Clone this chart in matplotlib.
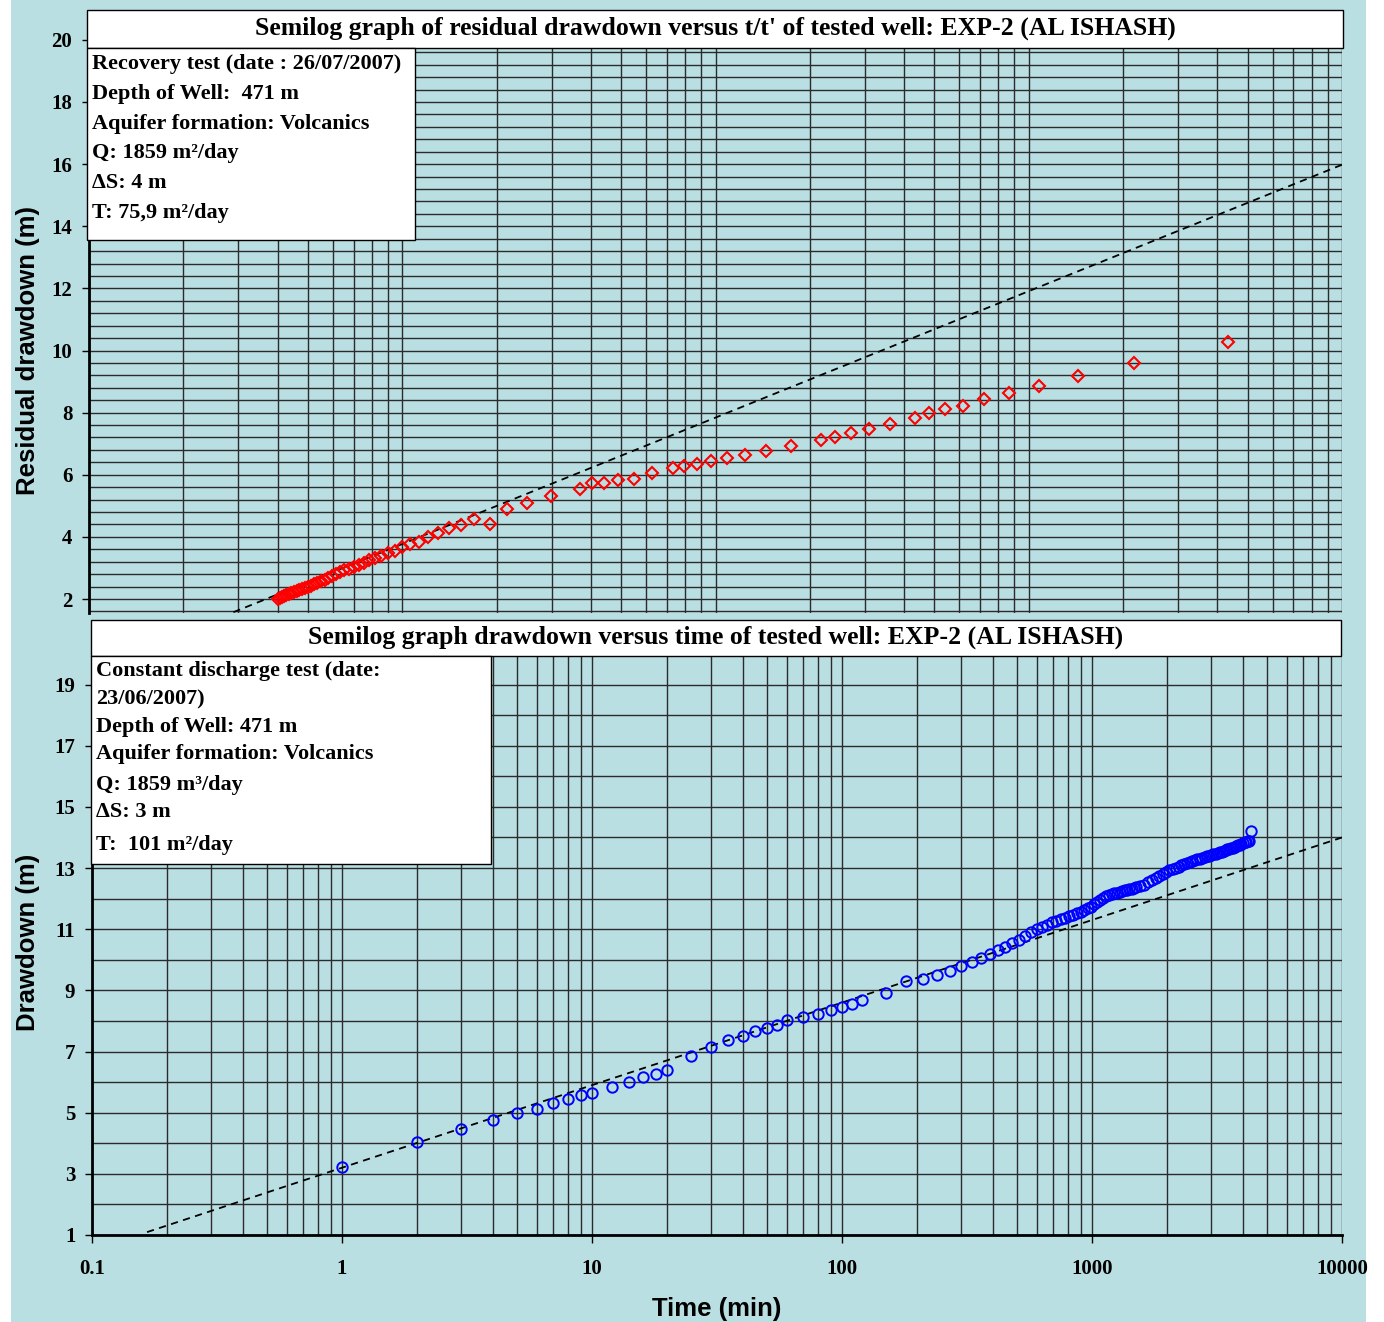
import numpy as np
import matplotlib
matplotlib.use("Agg")
import matplotlib.pyplot as plt
from matplotlib.patches import Rectangle
from matplotlib.ticker import LogLocator, MultipleLocator, FixedLocator, NullFormatter

# ── Recovery test: residual drawdown versus t/t' ───────────────────────────────
recovery_ratio = [4321, 2161, 1441, 1081, 865, 721, 618, 541, 481, 433, 361, 310,
                  271, 241, 217, 174, 145, 124.4, 109, 97, 87.4, 79.5, 73, 62.7,
                  55, 49, 44.2, 40.3, 37, 29.8, 25, 21.6, 19, 17, 15.4, 14.1, 13,
                  12.08, 11.29, 10.6, 10.0,
                  9.47, 9.0, 8.58, 8.2, 7.86, 7.55, 7.26, 7.0, 6.76, 6.54, 6.33,
                  6.14, 5.97, 5.8, 5.65, 5.5, 5.36, 5.24, 5.11, 5.0, 4.89, 4.79,
                  4.69, 4.6, 4.51, 4.43, 4.35, 4.27, 4.2, 4.13, 4.06, 4.0]
residual_drawdown = [10.26, 9.59, 9.18, 8.86, 8.62, 8.44, 8.22, 8.13, 7.98, 7.83,
                     7.63, 7.48, 7.35, 7.23, 7.12, 6.93, 6.77, 6.64, 6.54, 6.45,
                     6.35, 6.28, 6.21, 6.07, 5.86, 5.83, 5.74, 5.74, 5.54, 5.32,
                     5.10, 4.91, 4.41, 4.57, 4.38, 4.28, 4.12, 4.01, 3.84, 3.77,
                     3.66,
                     3.56, 3.47, 3.40, 3.33, 3.26, 3.17, 3.09, 3.03, 2.98, 2.92,
                     2.86, 2.80, 2.74, 2.68, 2.62, 2.57, 2.53, 2.48, 2.43, 2.39,
                     2.35, 2.32, 2.29, 2.26, 2.23, 2.20, 2.17, 2.13, 2.10, 2.07,
                     2.03, 2.00]

# straight-line fit used for T (recovery)
recovery_fit_x = [0.3, 10000]
recovery_fit_a, recovery_fit_b = -0.30, 4.07

# ── Constant discharge test: drawdown versus time ─────────────────────────────
pump_time = [1, 2, 3, 4, 5, 6, 7, 8, 9, 10, 12, 14, 16, 18, 20, 25, 30, 35, 40,
             45, 50, 55, 60, 70, 80, 90, 100, 110, 120, 150, 180, 210, 240, 270,
             300, 330, 360, 390, 420, 450, 480, 510,
             540, 570, 600, 630, 660, 690, 720, 750, 780, 810, 840, 870, 900,
             930, 960, 990, 1020, 1050, 1080, 1110, 1140, 1170, 1200, 1230,
             1260, 1290, 1320, 1350, 1380, 1410, 1440, 1470, 1500,
             1560, 1620, 1680, 1740, 1800, 1860, 1920, 1980, 2040, 2100, 2160,
             2220, 2280, 2340, 2400, 2460, 2520, 2580, 2640, 2700, 2760, 2820,
             2880, 2940, 3000, 3060, 3120, 3180, 3240, 3300, 3360, 3420, 3480,
             3540, 3600, 3660, 3720, 3780, 3840, 3900, 3960, 4020, 4080, 4140,
             4200, 4260, 4320]
drawdown = [3.22, 4.05, 4.48, 4.75, 4.98, 5.13, 5.31, 5.44, 5.57, 5.66, 5.85,
            6.00, 6.16, 6.27, 6.38, 6.85, 7.16, 7.37, 7.52, 7.68, 7.76, 7.87,
            8.02, 8.12, 8.23, 8.36, 8.46, 8.57, 8.67, 8.92, 9.32, 9.38, 9.49,
            9.62, 9.79, 9.92, 10.05, 10.19, 10.33, 10.43, 10.55, 10.66,
            10.78, 10.90, 11.02, 11.08, 11.15, 11.22, 11.28, 11.33, 11.37,
            11.42, 11.47, 11.52, 11.57, 11.62, 11.68, 11.74, 11.82, 11.90,
            11.97, 12.03, 12.07, 12.12, 12.16, 12.18, 12.20, 12.23, 12.25,
            12.27, 12.29, 12.31, 12.33, 12.35, 12.37,
            12.40, 12.46, 12.53, 12.60, 12.67, 12.74, 12.81, 12.88, 12.93,
            12.97, 13.01, 13.05, 13.09, 13.13, 13.16, 13.19, 13.22, 13.25,
            13.28, 13.31, 13.33, 13.36, 13.38, 13.41, 13.43, 13.45, 13.47,
            13.50, 13.52, 13.54, 13.56, 13.58, 13.61, 13.63, 13.65, 13.67,
            13.70, 13.72, 13.75, 13.77, 13.80, 13.82, 13.84, 13.86, 13.88,
            13.90, 14.20]

# straight-line fit used for T (pumping)
pump_fit_x = [0.166, 10000]
pump_fit_a, pump_fit_b = 3.20, 2.70

x_ticks = [0.1, 1, 10, 100, 1000, 10000]
x_tick_labels = ["0.1", "1", "10", "100", "1000", "10000"]

recovery_info = ["Recovery test (date : 26/07/2007)",
                 "Depth of Well:  471 m",
                 "Aquifer formation: Volcanics",
                 "Q: 1859 m\u00b2/day",
                 "\u0394S: 4 m",
                 "T: 75,9 m\u00b2/day"]
pump_info = ["Constant discharge test (date:",
             "23/06/2007)",
             "Depth of Well: 471 m",
             "Aquifer formation: Volcanics",
             "Q: 1859 m\u00b3/day",
             "\u0394S: 3 m",
             "T:  101 m\u00b2/day"]

# ── Figure setup ──────────────────────────────────────────────────────────────
W, H = 1384, 1322
BG = "#badfe2"
GRID = "#2b2b2b"
SERIF = "Liberation Serif"
SANS = "Liberation Sans"
TICK_FS = 15
INFO_FS = 16
TITLE_FS = 18.5
LABEL_FS = 18.5

fig = plt.figure(figsize=(W / 100, H / 100), dpi=100, facecolor="white")
fig.add_artist(Rectangle((11 / W, 0), (1366 - 11) / W, 1, transform=fig.transFigure,
                         facecolor=BG, edgecolor="none", zorder=-10))


def px_axes(left, top, right, bottom):
    return fig.add_axes([left / W, 1 - bottom / H, (right - left) / W, (bottom - top) / H])


def px_box(left, top, right, bottom):
    fig.add_artist(Rectangle((left / W, 1 - bottom / H), (right - left) / W, (bottom - top) / H,
                             transform=fig.transFigure, facecolor="white",
                             edgecolor="black", linewidth=1.0, zorder=5))


def style_axes(ax):
    ax.set_facecolor(BG)
    ax.set_xscale("log")
    ax.xaxis.set_minor_locator(LogLocator(base=10, subs=np.arange(2, 10)))
    ax.xaxis.set_minor_formatter(NullFormatter())
    ax.grid(True, which="both", color=GRID, linewidth=1.0)
    ax.set_axisbelow(True)
    for s in ("top", "right", "bottom"):
        ax.spines[s].set_visible(False)
    ax.spines["left"].set_linewidth(2.0)
    ax.tick_params(which="minor", length=0)
    ax.tick_params(axis="y", which="major", direction="out", length=5, width=1, pad=7)
    for lab in ax.get_yticklabels():
        lab.set_fontfamily(SERIF)
        lab.set_fontweight("bold")
        lab.set_fontsize(TICK_FS)


# ── Top panel: recovery ───────────────────────────────────────────────────────
ax1 = px_axes(89, 15, 1342, 613)
ax1.set_xlim(1, 10000)
ax1.set_ylim(1.55, 20.8)
ax1.yaxis.set_major_locator(FixedLocator(np.arange(2, 21, 2)))
ax1.yaxis.set_minor_locator(MultipleLocator(0.4))
style_axes(ax1)
ax1.tick_params(axis="x", which="both", length=0, labelbottom=False)

fx = np.array(recovery_fit_x)
ax1.plot(fx, recovery_fit_a + recovery_fit_b * np.log10(fx), color="black",
         linestyle=(0, (4, 3)), linewidth=1.3, zorder=3)
ax1.plot(recovery_ratio, residual_drawdown, linestyle="none", marker="D",
         markersize=6.3, markerfacecolor="none", markeredgecolor="red",
         markeredgewidth=1.5, zorder=4)

# ── Bottom panel: constant discharge ──────────────────────────────────────────
ax2 = px_axes(92, 654, 1342, 1235)
ax2.set_xlim(0.1, 10000)
ax2.set_ylim(1, 20)
ax2.yaxis.set_major_locator(FixedLocator(np.arange(1, 20, 2)))
ax2.yaxis.set_minor_locator(MultipleLocator(1))
style_axes(ax2)
ax2.spines["bottom"].set_visible(True)
ax2.spines["bottom"].set_linewidth(2.0)
ax2.xaxis.set_major_locator(FixedLocator(x_ticks))
ax2.set_xticklabels(x_tick_labels, fontfamily=SERIF, fontweight="bold", fontsize=TICK_FS)
ax2.tick_params(axis="x", which="major", direction="out", length=6, width=1, pad=11)
for lab in ax2.get_yticklabels():
    lab.set_fontfamily(SERIF)
    lab.set_fontweight("bold")
    lab.set_fontsize(TICK_FS)

fx = np.array(pump_fit_x)
ax2.plot(fx, pump_fit_a + pump_fit_b * np.log10(fx), color="black",
         linestyle=(0, (4, 3)), linewidth=1.3, zorder=3)
ax2.plot(pump_time, drawdown, linestyle="none", marker="o", markersize=7.5,
         markerfacecolor="none", markeredgecolor="blue", markeredgewidth=1.4, zorder=4)

# ── Titles and info boxes ─────────────────────────────────────────────────────
px_box(87, 10, 1343, 48)
fig.text(715 / W, 1 - 28 / H,
         "Semilog graph of residual drawdown versus t/t' of tested well: EXP-2 (AL ISHASH)",
         ha="center", va="center", fontfamily=SERIF, fontweight="bold", fontsize=TITLE_FS, zorder=6)
px_box(87, 48, 415, 240)
for i, line in enumerate(recovery_info):
    fig.text(92 / W, 1 - (64 + i * 29.8) / H, line, ha="left", va="center",
             fontfamily=SERIF, fontweight="bold", fontsize=INFO_FS, zorder=6)

px_box(91, 620, 1341, 656)
fig.text(716 / W, 1 - 637 / H,
         "Semilog graph drawdown versus time of tested well: EXP-2 (AL ISHASH)",
         ha="center", va="center", fontfamily=SERIF, fontweight="bold", fontsize=TITLE_FS, zorder=6)
px_box(91, 656, 491, 864)
pump_rows = [671, 699, 727, 754, 785, 812, 845]
for y, line in zip(pump_rows, pump_info):
    fig.text(96 / W, 1 - y / H, line, ha="left", va="center",
             fontfamily=SERIF, fontweight="bold", fontsize=INFO_FS, zorder=6)

# ── Axis titles ───────────────────────────────────────────────────────────────
fig.text(28 / W, 1 - 351 / H, "Residual drawdown (m)", rotation=90, ha="center",
         va="center", fontfamily=SANS, fontweight="bold", fontsize=LABEL_FS)
fig.text(28 / W, 1 - 942 / H, "Drawdown (m)", rotation=90, ha="center",
         va="center", fontfamily=SANS, fontweight="bold", fontsize=LABEL_FS)
fig.text(717 / W, 1 - 1309 / H, "Time (min)", ha="center", va="center",
         fontfamily=SANS, fontweight="bold", fontsize=LABEL_FS)

fig.savefig("out.png", dpi=100, facecolor="white")
